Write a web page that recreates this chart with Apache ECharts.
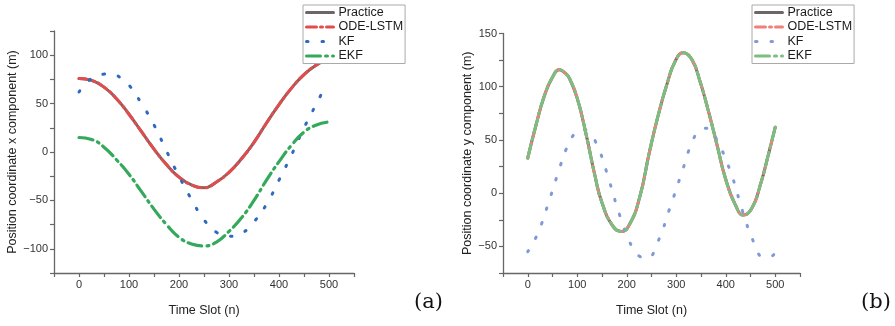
<!DOCTYPE html>
<html><head><meta charset="utf-8">
<script src="https://cdn.jsdelivr.net/npm/echarts@6/dist/echarts.min.js"></script>
<style>html,body{margin:0;padding:0;background:#fff}#c{width:895px;height:326px}</style>
</head><body><div id="c"></div>
<script>
// ---- Data: panel (a), x component ----
const aPracticeN = [0,25,50,75,100,125,150,175,200,225,250,275,300,325,350,375,400,425,450,475,500];
const aPracticeV = [76,74,67,55,39,21,3,-13,-26,-34,-37,-31,-21,-7,10,30,49,66,80,90,97];
const aOdeN = aPracticeN;
const aOdeV = [76,74,67,55,39,21,3,-13,-26,-34,-37,-31,-21,-7,10,30,49,66,80,90,97];
const aKfN = [0,25,50,65,75,100,125,150,175,200,225,250,275,300,325,350,375,400,425,450,475,490];
const aKfV = [62,76,80.5,81,79.5,69,50,28,1,-25,-49,-70,-83,-87,-84,-72,-54,-29,-3,25,50,65];
const aEkfN = [0,25,50,75,100,125,150,175,200,225,250,275,300,325,350,375,400,425,450,475,500];
const aEkfV = [15,13,5,-8,-23,-41,-59,-75,-88,-95,-97,-93,-82,-68,-50,-29,-10,7,20.5,28,31];

// ---- Data: panel (b), y component ----
const bPracticeN = [0,17,34,50,64,75,84,100,118,135,150,172,189,206,226,246,264,281,298,314,331,348,365,382,399,419,436,453,470,486,500];
const bPracticeV = [33,64.5,92,109,116,113,108,89,55,18,-9,-31,-36,-29,-4,39,74,102,124,132,126,105,77,46,14.5,-10.5,-20.6,-14,8,36,62];
const bOdeV = bPracticeV;
const bEkfV = bPracticeV;
const bKfN = [0,20,44,66,78,93,107,121,142,165,186,211,225,241,262,287,310,333,348,362,385,413,434,458,476,488,500];
const bKfV = [-55,-38,-6,26,41.7,55,60,58,43,11,-21,-51,-59,-61,-46.5,-14,17.6,49,59,61,47,15.5,-17,-47.5,-60,-60,-56];

const xTickLabels = [0,100,200,300,400,500];
const names = ['Practice','ODE-LSTM','KF','EKF'];

function pairs(n, v){ return n.map((x,i)=>[x, v[i]]); }

const FONT = 'Liberation Sans';
function xAx(gi){
  return {gridIndex:gi, type:'value', min:-50, max:550, interval:50,
    name:'Time Slot (n)', nameLocation:'middle', nameGap:31,
    nameTextStyle:{fontSize:12.5, color:'#222', fontFamily:FONT},
    axisLine:{onZero:false, lineStyle:{color:'#666', width:1.3}},
    axisTick:{length:4, inside:false, lineStyle:{color:'#666', width:1.2}},
    axisLabel:{fontSize:11, color:'#333', fontFamily:FONT, margin:6,
      formatter:v=> xTickLabels.includes(v) ? String(v) : ''},
    splitLine:{show:false}};
}
function yAx(gi, min, max, title, gap){
  return {gridIndex:gi, type:'value', min:min, max:max, interval:25,
    name:title, nameLocation:'middle', nameGap:gap, nameRotate:90,
    nameTextStyle:{fontSize:12.5, color:'#222', fontFamily:FONT},
    axisLine:{show:true, onZero:false, lineStyle:{color:'#666', width:1.3}},
    axisTick:{show:true, length:4, lineStyle:{color:'#666', width:1.2}},
    axisLabel:{fontSize:11, color:'#333', fontFamily:FONT, margin:6,
      formatter:v=> (v%50===0) ? (v<0 ? '\u2212'+Math.abs(v) : String(v)) : ''},
    splitLine:{show:false}};
}
function ser(name, gi, data, color, type, width, z){
  return {name:name, type:'line', xAxisIndex:gi, yAxisIndex:gi, data:data,
    smooth:0.5, symbol:'none', showSymbol:false, z:z,
    lineStyle:{color:color, width:width, type:type, cap:'round'},
    itemStyle:{color:color}};
}
function legend(left, top, suffix){
  return {left:left, top:top, orient:'vertical', data:names.map(n=>n+suffix),
    formatter:n=>n.split('|')[0],
    itemWidth:27, itemHeight:14, itemGap:1.5, padding:[1,2,1,2],
    borderColor:'#aaa', borderWidth:1, backgroundColor:'#fff',
    itemStyle:{opacity:0},
    lineStyle:{width:3},
    textStyle:{fontSize:12.5, color:'#1a1a1a', fontFamily:FONT}, selectedMode:false};
}

const option = {
  animation:false,
  backgroundColor:'#fff',
  grid:[
    {left:54, top:31, width:300, height:242},
    {left:503, top:33.5, width:297, height:239.5}
  ],
  xAxis:[xAx(0), xAx(1)],
  yAxis:[
    yAx(0, -125, 125, 'Position coordinate x component (m)', 32),
    yAx(1, -75, 150, 'Position coordinate y component (m)', 27)
  ],
  legend:[legend(303, 5, ''), legend(752, 5, '|b')],
  series:[
    ser('Practice', 0, pairs(aPracticeN, aPracticeV), '#6b6767', 'solid', 3, 2),
    ser('ODE-LSTM', 0, pairs(aOdeN, aOdeV), '#e24c4c', [10,4,2,4], 3, 3),
    ser('KF', 0, pairs(aKfN, aKfV), '#2f69bd', [1.5,14], 3, 4),
    ser('EKF', 0, pairs(aEkfN, aEkfV), '#35a95b', [14,5,2,5], 3.2, 5),
    ser('Practice|b', 1, pairs(bPracticeN, bPracticeV), '#6b6767', 'solid', 3, 2),
    ser('ODE-LSTM|b', 1, pairs(bPracticeN, bOdeV), '#f0807a', [10,4,2,4], 3, 3),
    ser('KF|b', 1, pairs(bKfN, bKfV), '#7f9ad6', [1.5,14], 3, 4),
    ser('EKF|b', 1, pairs(bPracticeN, bEkfV), '#7cbd80', [14,5,2,5], 3, 5)
  ],
  graphic:[
    {type:'text', left:414, top:292, style:{text:'(a)', fontSize:21, fontFamily:'DejaVu Serif', fill:'#111'}},
    {type:'text', left:861, top:292, style:{text:'(b)', fontSize:21, fontFamily:'DejaVu Serif', fill:'#111'}}
  ]
};
const chart = echarts.init(document.getElementById('c'), null, {renderer:'canvas'});
chart.setOption(option);
</script></body></html>
